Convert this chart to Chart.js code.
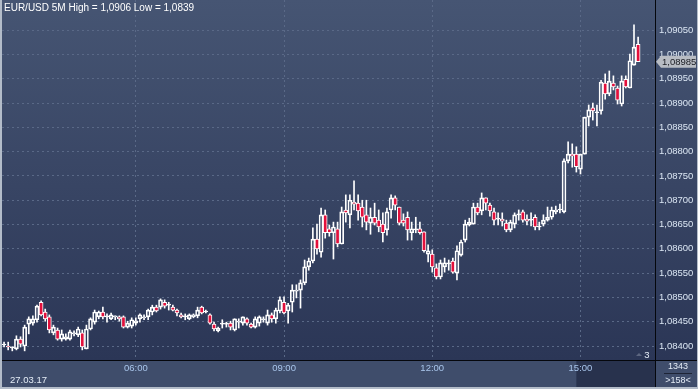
<!DOCTYPE html>
<html>
<head>
<meta charset="utf-8">
<script src="https://cdn.jsdelivr.net/npm/chart.js@4.4.0/dist/chart.umd.min.js"></script>
<style>
html, body { margin: 0; padding: 0; background: #3d4b68; overflow: hidden; }
</style>
</head>
<body>
<canvas id="candleChart" width="698" height="389"></canvas>
<script>
// EUR/USD 5 minute candles, 27.03.17
var symbol = 'EUR/USD';
var period = '5M';
var sessionDate = '27.03.17';
var firstBar = '03:20';
var barMinutes = 5;

var opens = [
  1.08402,1.08400,1.08396,1.08394,1.08414,1.08400,1.08445,1.08447,1.08454,1.08490,
  1.08470,1.08460,1.08427,1.08433,1.08414,1.08414,1.08414,1.08425,1.08423,1.08427,
  1.08394,1.08435,1.08449,1.08460,1.08470,1.08460,1.08456,1.08460,1.08460,1.08460,
  1.08439,1.08441,1.08447,1.08456,1.08458,1.08460,1.08470,1.08480,1.08480,1.08490,
  1.08484,1.08480,1.08474,1.08464,1.08460,1.08456,1.08460,1.08462,1.08480,1.08470,
  1.08464,1.08445,1.08431,1.08445,1.08445,1.08447,1.08433,1.08449,1.08447,1.08456,
  1.08445,1.08439,1.08447,1.08454,1.08447,1.08464,1.08456,1.08472,1.08490,1.08472,
  1.08490,1.08513,1.08515,1.08530,1.08563,1.08575,1.08620,1.08593,1.08670,1.08641,
  1.08633,1.08641,1.08610,1.08680,1.08670,1.08696,1.08694,1.08686,1.08670,1.08653,
  1.08665,1.08659,1.08651,1.08639,1.08680,1.08705,1.08686,1.08659,1.08665,1.08633,
  1.08639,1.08641,1.08635,1.08589,1.08589,1.08561,1.08542,1.08563,1.08569,1.08575,
  1.08550,1.08587,1.08618,1.08649,1.08651,1.08686,1.08678,1.08705,1.08690,1.08676,
  1.08661,1.08661,1.08653,1.08639,1.08651,1.08670,1.08676,1.08661,1.08659,1.08665,
  1.08645,1.08651,1.08659,1.08665,1.08676,1.08680,1.08676,1.08781,1.08795,1.08795,
  1.08764,1.08795,1.08871,1.08890,1.08880,1.08884,1.08941,1.08919,1.08941,1.08931,
  1.08898,1.08949,1.08931,1.08978,1.09021
];
var highs = [
  1.08408,1.08408,1.08398,1.08421,1.08419,1.08443,1.08460,1.08462,1.08484,1.08493,
  1.08476,1.08464,1.08443,1.08437,1.08433,1.08425,1.08433,1.08431,1.08439,1.08433,
  1.08443,1.08458,1.08474,1.08472,1.08480,1.08466,1.08468,1.08462,1.08462,1.08462,
  1.08451,1.08458,1.08458,1.08466,1.08464,1.08476,1.08484,1.08484,1.08497,1.08495,
  1.08490,1.08484,1.08476,1.08468,1.08466,1.08466,1.08466,1.08480,1.08482,1.08474,
  1.08466,1.08449,1.08439,1.08454,1.08449,1.08451,1.08456,1.08456,1.08460,1.08458,
  1.08447,1.08460,1.08462,1.08460,1.08474,1.08468,1.08478,1.08501,1.08501,1.08488,
  1.08526,1.08526,1.08536,1.08577,1.08581,1.08643,1.08651,1.08684,1.08680,1.08649,
  1.08655,1.08655,1.08686,1.08711,1.08711,1.08740,1.08711,1.08700,1.08700,1.08684,
  1.08694,1.08680,1.08674,1.08684,1.08711,1.08709,1.08686,1.08672,1.08676,1.08655,
  1.08665,1.08655,1.08635,1.08608,1.08598,1.08569,1.08577,1.08581,1.08577,1.08581,
  1.08606,1.08618,1.08659,1.08663,1.08694,1.08694,1.08715,1.08705,1.08694,1.08684,
  1.08674,1.08674,1.08659,1.08659,1.08674,1.08680,1.08680,1.08670,1.08674,1.08670,
  1.08655,1.08670,1.08686,1.08686,1.08688,1.08692,1.08785,1.08820,1.08816,1.08810,
  1.08795,1.08871,1.08896,1.08900,1.08896,1.08947,1.08960,1.08966,1.08956,1.08935,
  1.08956,1.08956,1.09001,1.09061,1.09036
];
var lows = [
  1.08398,1.08392,1.08390,1.08392,1.08398,1.08390,1.08425,1.08443,1.08449,1.08462,
  1.08451,1.08427,1.08423,1.08412,1.08410,1.08412,1.08412,1.08421,1.08419,1.08392,
  1.08394,1.08433,1.08445,1.08456,1.08456,1.08449,1.08454,1.08454,1.08451,1.08437,
  1.08437,1.08437,1.08443,1.08449,1.08454,1.08454,1.08464,1.08470,1.08476,1.08478,
  1.08474,1.08472,1.08462,1.08458,1.08454,1.08454,1.08458,1.08458,1.08466,1.08468,
  1.08445,1.08431,1.08429,1.08437,1.08439,1.08433,1.08431,1.08437,1.08443,1.08443,
  1.08437,1.08437,1.08441,1.08449,1.08443,1.08449,1.08447,1.08468,1.08466,1.08447,
  1.08470,1.08499,1.08478,1.08526,1.08556,1.08571,1.08589,1.08583,1.08622,1.08626,
  1.08579,1.08604,1.08610,1.08655,1.08643,1.08680,1.08659,1.08645,1.08639,1.08630,
  1.08649,1.08635,1.08614,1.08628,1.08663,1.08680,1.08649,1.08647,1.08618,1.08618,
  1.08633,1.08630,1.08593,1.08573,1.08552,1.08538,1.08538,1.08552,1.08556,1.08550,
  1.08536,1.08585,1.08614,1.08647,1.08651,1.08670,1.08670,1.08680,1.08667,1.08649,
  1.08649,1.08647,1.08635,1.08635,1.08643,1.08659,1.08655,1.08649,1.08647,1.08639,
  1.08639,1.08647,1.08657,1.08661,1.08672,1.08674,1.08674,1.08777,1.08768,1.08758,
  1.08754,1.08795,1.08853,1.08865,1.08853,1.08877,1.08908,1.08915,1.08927,1.08898,
  1.08894,1.08931,1.08931,1.08978,1.08985
];
var closes = [
  1.08402,1.08398,1.08396,1.08414,1.08404,1.08439,1.08456,1.08456,1.08482,1.08464,
  1.08456,1.08433,1.08439,1.08414,1.08425,1.08419,1.08429,1.08427,1.08435,1.08398,
  1.08435,1.08456,1.08470,1.08470,1.08460,1.08460,1.08464,1.08462,1.08456,1.08439,
  1.08447,1.08454,1.08452,1.08464,1.08460,1.08474,1.08480,1.08472,1.08495,1.08482,
  1.08484,1.08474,1.08468,1.08460,1.08460,1.08464,1.08464,1.08474,1.08468,1.08470,
  1.08447,1.08435,1.08437,1.08445,1.08445,1.08439,1.08456,1.08451,1.08460,1.08447,
  1.08439,1.08456,1.08460,1.08456,1.08464,1.08456,1.08474,1.08495,1.08468,1.08484,
  1.08515,1.08515,1.08530,1.08563,1.08575,1.08620,1.08600,1.08670,1.08633,1.08633,
  1.08645,1.08610,1.08676,1.08674,1.08700,1.08692,1.08678,1.08665,1.08655,1.08665,
  1.08653,1.08645,1.08633,1.08676,1.08705,1.08690,1.08653,1.08653,1.08639,1.08641,
  1.08639,1.08633,1.08596,1.08596,1.08563,1.08542,1.08571,1.08571,1.08569,1.08552,
  1.08596,1.08614,1.08651,1.08655,1.08686,1.08674,1.08705,1.08694,1.08678,1.08659,
  1.08661,1.08657,1.08639,1.08655,1.08670,1.08670,1.08659,1.08657,1.08659,1.08645,
  1.08645,1.08659,1.08665,1.08680,1.08680,1.08680,1.08781,1.08795,1.08791,1.08769,
  1.08795,1.08871,1.08886,1.08884,1.08880,1.08943,1.08919,1.08945,1.08933,1.08906,
  1.08945,1.08933,1.08987,1.09015,1.08985
];

// axis labels
var timeLabels = ['06:00', '09:00', '12:00', '15:00'];
var priceTicks = [1.0840, 1.0845, 1.0850, 1.0855, 1.0860, 1.0865, 1.0870,
                  1.0875, 1.0880, 1.0885, 1.0890, 1.0895, 1.0900, 1.0905];
var barCount = '1343';
var visibleBars = '>158<';

function toMinutes(s) {
    var p = s.split(':');
    return parseInt(p[0], 10) * 60 + parseInt(p[1], 10);
}
function fmtPrice(v, d) {
    return v.toFixed(d).replace('.', ',');
}

var t0 = toMinutes(firstBar);
var upperWick = [], lowerWick = [], bodies = [], bodyColors = [];
var dayHigh = -Infinity, dayLow = Infinity;
for (var i = 0; i < opens.length; i++) {
    var t = t0 + i * barMinutes;
    var bodyTop = Math.max(opens[i], closes[i]);
    var bodyBot = Math.min(opens[i], closes[i]);
    upperWick.push({x: t, y: [bodyTop, highs[i]]});
    lowerWick.push({x: t, y: [lows[i], bodyBot]});
    bodies.push({x: t, y: [bodyBot, bodyTop]});
    bodyColors.push(closes[i] < opens[i] ? '#e3103c' : 'rgba(0,0,0,0)');
    if (highs[i] > dayHigh) dayHigh = highs[i];
    if (lows[i] < dayLow) dayLow = lows[i];
}
var lastClose = closes[closes.length - 1];

var fontFamily = '"Liberation Sans", Arial, sans-serif';
Chart.defaults.font.family = fontFamily;
Chart.defaults.font.size = 9.5;

// backgrounds, frame and extra texts
var terminalLook = {
    id: 'terminalLook',
    beforeDraw: function(chart) {
        var ctx = chart.ctx, a = chart.chartArea;
        var W = chart.width, H = chart.height;
        ctx.save();
        ctx.fillStyle = '#3f4d6b';
        ctx.fillRect(0, 0, W, H);
        var g = ctx.createLinearGradient(0, a.top, 0, a.bottom);
        g.addColorStop(0, '#465573');
        g.addColorStop(1, '#2b3656');
        ctx.fillStyle = g;
        ctx.fillRect(0, a.top, W, a.bottom - a.top);
        // darker part of time band
        var xs = chart.scales.x;
        var x0 = xs.getPixelForValue(toMinutes('14:55'));
        ctx.fillStyle = '#28324d';
        ctx.fillRect(x0, a.bottom, a.right - x0, H - a.bottom - 2);
        ctx.restore();
    },
    afterDraw: function(chart) {
        var ctx = chart.ctx, a = chart.chartArea;
        var W = chart.width, H = chart.height;
        ctx.save();
        // separators
        ctx.fillStyle = '#05070c';
        ctx.fillRect(0, a.bottom, W, 1);
        ctx.fillRect(a.right, 0, 1, H);
        // frame
        ctx.fillStyle = '#b3bcc9';
        ctx.fillRect(0, 0, 2, H);
        ctx.fillRect(0, H - 2, W, 2);
        ctx.fillRect(W - 1, 0, 1, H);

        ctx.font = '10px ' + fontFamily;
        ctx.textBaseline = 'middle';
        ctx.textAlign = 'left';
        ctx.fillStyle = '#ffffff';
        ctx.fillText(symbol + ' ' + period + ' High = ' + fmtPrice(dayHigh, 4) + ' Low = ' + fmtPrice(dayLow, 4), 4, 8);

        ctx.font = '9.5px ' + fontFamily;
        ctx.fillStyle = '#e4ecf6';
        ctx.fillText(sessionDate, 10, 380);

        // bottom right box
        ctx.textAlign = 'center';
        ctx.font = '9px ' + fontFamily;
        ctx.fillStyle = '#e4ecf6';
        ctx.fillText(barCount, 678, 367);
        ctx.fillText(visibleBars, 678, 381);
        ctx.fillStyle = '#1d2436';
        ctx.fillRect(664, 373, 28, 1);

        // "3" marker
        ctx.fillStyle = '#e4ecf6';
        ctx.font = '9.5px ' + fontFamily;
        ctx.fillText('3', 647, 355);
        ctx.fillStyle = '#5c6680';
        ctx.beginPath();
        ctx.moveTo(636, 356); ctx.lineTo(642, 356); ctx.lineTo(639, 353); ctx.closePath();
        ctx.fill();

        // last price tag
        var y = chart.scales.y.getPixelForValue(lastClose);
        ctx.fillStyle = '#b8bcc3';
        ctx.beginPath();
        ctx.moveTo(656, y);
        ctx.lineTo(661, y - 6);
        ctx.lineTo(696, y - 6);
        ctx.lineTo(696, y + 6);
        ctx.lineTo(661, y + 6);
        ctx.closePath();
        ctx.fill();
        ctx.fillStyle = '#1a1c22';
        ctx.textAlign = 'left';
        ctx.fillText(fmtPrice(lastClose, 5), 662, y + 0.5);
        ctx.restore();
    }
};

var ctx = document.getElementById('candleChart').getContext('2d');
var chart = new Chart(ctx, {
    type: 'bar',
    data: {
        datasets: [
            {data: upperWick, backgroundColor: '#ffffff', barThickness: 1, borderWidth: 0, grouped: false, order: 3},
            {data: lowerWick, backgroundColor: '#ffffff', barThickness: 1, borderWidth: 0, grouped: false, order: 2},
            {data: bodies, backgroundColor: bodyColors, borderColor: '#ffffff', borderWidth: 1,
             borderSkipped: false, barThickness: 4, minBarLength: 1, grouped: false, order: 1}
        ]
    },
    options: {
        responsive: false,
        animation: false,
        events: [],
        layout: {padding: {left: 2, top: 0, right: 0, bottom: 0}},
        plugins: {legend: {display: false}, tooltip: {enabled: false}},
        scales: {
            x: {
                type: 'linear',
                offset: false,
                min: 197.5,
                max: 990.5,
                afterFit: function(s) {
                    s.height = 29;
                    s.paddingLeft = 0; s.paddingRight = 0;
                },
                afterBuildTicks: function(s) {
                    s.ticks = timeLabels.map(function(l) { return {value: toMinutes(l)}; });
                },
                ticks: {
                    color: '#a9c6ec',
                    padding: 3,
                    maxRotation: 0,
                    autoSkip: false,
                    callback: function(v, i) { return timeLabels[i]; }
                },
                grid: {color: '#5a6987', lineWidth: 1, drawTicks: false, offset: false},
                border: {display: false, dash: [2, 3]}
            },
            y: {
                position: 'right',
                min: 1.083712,
                max: 1.091121,
                afterFit: function(s) {
                    s.width = 43;
                    s.paddingTop = 0; s.paddingBottom = 0;
                },
                afterBuildTicks: function(s) {
                    s.ticks = priceTicks.map(function(v) { return {value: v}; });
                },
                ticks: {
                    color: '#dbe6f3',
                    padding: 4,
                    callback: function(v) { return fmtPrice(v, 5); }
                },
                grid: {color: '#5a6987', lineWidth: 1, drawTicks: false},
                border: {display: false, dash: [2, 3]}
            }
        }
    },
    plugins: [terminalLook]
});
</script>
</body>
</html>
